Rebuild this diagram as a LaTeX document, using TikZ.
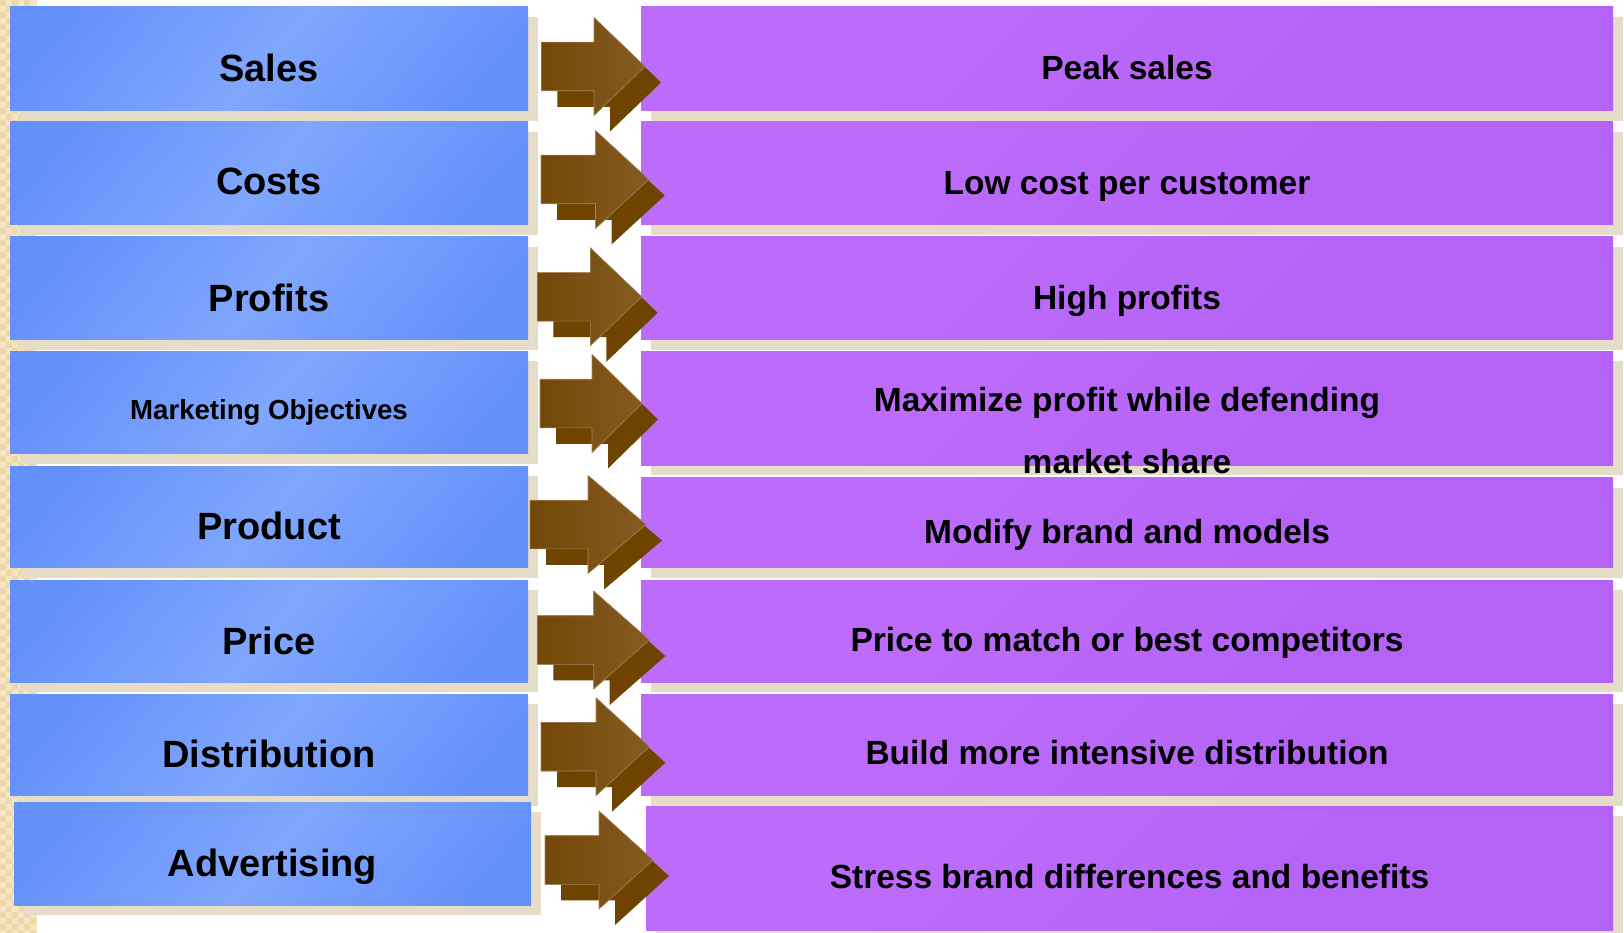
\documentclass[tikz,border=0pt]{standalone}
\usepackage{fontspec}
\setmainfont{Liberation Sans}
\usetikzlibrary{backgrounds}

\definecolor{blueA}{HTML}{6490FA}
\definecolor{blueB}{HTML}{80A7FC}
\definecolor{purpA}{HTML}{BD6BFA}
\definecolor{purpB}{HTML}{B563F7}
\definecolor{shadowc}{HTML}{E6DDC8}
\definecolor{chklight}{HTML}{F7E6C1}
\definecolor{chkdark}{HTML}{EDD8AC}
\definecolor{frontA}{HTML}{734707}
\definecolor{frontB}{HTML}{855B22}
\definecolor{backc}{HTML}{6F4300}
\definecolor{arrowedge}{HTML}{A8885A}

\pgfdeclarehorizontalshading{blueband}{100bp}{color(0bp)=(blueA); color(22bp)=(blueA); color(50bp)=(blueB); color(78bp)=(blueA); color(100bp)=(blueA)}
\pgfdeclarehorizontalshading{purpleband}{100bp}{color(0bp)=(purpA); color(35bp)=(purpA); color(65bp)=(purpB); color(100bp)=(purpB)}

\tikzset{
  panel/.style={rectangle, inner sep=0pt, outer sep=0pt, draw=none},
  leftbox/.style={panel, shading=blueband, shading angle=-40},
  rightbox/.style={panel, shading=purpleband, shading angle=-45},
  boxshadow/.style={fill=shadowc},
  lefttext/.style={font=\bfseries\fontsize{38}{40}\selectfont, inner sep=0pt, anchor=base},
  smalltext/.style={font=\bfseries\fontsize{27.6}{30}\selectfont, inner sep=0pt, anchor=base},
  righttext/.style={font=\bfseries\fontsize{33.5}{36}\selectfont, inner sep=0pt, anchor=base},
  arrowback/.style={fill=backc},
  arrowfront/.style={left color=frontA, right color=frontB, draw=arrowedge, line width=0.6pt, line join=miter},
}

% box node: name, style, left, top, right, bottom
\newcommand\drawpanel[6]{%
  \node[#2, anchor=north west, minimum width={#5-#3}, minimum height={#6-#4}] (#1) at (#3,#4) {};}

% 3D block arrow: body left, head base, tip, centre line
\newcommand\blockarrow[4]{%
  \fill[arrowback, shift={(16,16)}] (#1,#4-24.3) -- (#2,#4-24.3) -- (#2,#4-49) -- (#3,#4)
     -- (#2,#4+49) -- (#2,#4+24.3) -- (#1,#4+24.3) -- cycle;
  \filldraw[arrowfront] (#1,#4-24.3) -- (#2,#4-24.3) -- (#2,#4-49) -- (#3,#4)
     -- (#2,#4+49) -- (#2,#4+24.3) -- (#1,#4+24.3) -- cycle;}

\begin{document}
\begin{tikzpicture}[x=1pt, y=-1pt]
\useasboundingbox (0,0) rectangle (1624,933);

% left column
\drawpanel{L1}{leftbox}{10}{7}{528}{110.8}
\drawpanel{L2}{leftbox}{10}{122}{528}{224.8}
\drawpanel{L3}{leftbox}{10}{237}{528}{339.6}
\drawpanel{L4}{leftbox}{10}{351}{528}{453.5}
\drawpanel{L5}{leftbox}{10}{466}{528}{567.6}
\drawpanel{L6}{leftbox}{10}{580}{528}{682.3}
\drawpanel{L7}{leftbox}{10}{694}{528}{795.6}
\drawpanel{L8}{leftbox}{14}{802}{531}{905}

% right column
\drawpanel{R1}{rightbox}{641}{7}{1613}{110.8}
\drawpanel{R2}{rightbox}{641}{122}{1613}{224.8}
\drawpanel{R3}{rightbox}{641}{237}{1613}{339.6}
\drawpanel{R4}{rightbox}{641}{351}{1613}{465}
\drawpanel{R5}{rightbox}{641}{477.7}{1613}{567.6}
\drawpanel{R6}{rightbox}{641}{580}{1613}{682.3}
\drawpanel{R7}{rightbox}{641}{694}{1613}{795.6}
\drawpanel{R8}{rightbox}{646}{806}{1613}{930.8}

\begin{scope}[on background layer]
  % checkered strip along the left edge
  \fill[chklight] (0,0) rectangle (37,933);
  \foreach \j in {0,...,155}{
    \pgfmathsetmacro\off{mod(\j,2)*6}
    \foreach \i in {0,12,24}
      \fill[chkdark] (\i+\off,\j*6) rectangle ++(6,6);
  }
  % box shadows
  \foreach \b in {L1,L2,L3,L4,L5,L6,L7,L8,R1,R2,R3,R4,R5,R6,R7,R8}
    \fill[boxshadow] ([shift={(10,10)}]\b.north west) rectangle ([shift={(10,10)}]\b.south east);
\end{scope}

% arrows between the columns
\blockarrow{541.3}{594}{645}{66.5}
\blockarrow{541}{595.5}{648.7}{179.5}
\blockarrow{537.3}{590.3}{641.7}{296.8}
\blockarrow{540}{592}{642}{403.5}
\blockarrow{530}{588}{646}{524.5}
\blockarrow{537.3}{593.7}{649.3}{640}
\blockarrow{541}{596}{649.3}{746.7}
\blockarrow{545}{599}{653}{860}

% left labels
\node[lefttext] (t1) at (269,82) {Sales};
\node[lefttext] (t2) at (269,195) {Costs};
\node[lefttext] (t3) at (269,311) {Profits};
\node[smalltext] (t4) at (269,419) {Marketing Objectives};
\node[lefttext] (t5) at (269,539) {Product};
\node[lefttext] (t6) at (269,654) {Price};
\node[lefttext] (t7) at (269,767) {Distribution};
\node[lefttext] (t8) at (272.5,876) {Advertising};

% right labels
\node[righttext] (u1) at (1127,80) {Peak sales};
\node[righttext] (u2) at (1127,194.5) {Low cost per customer};
\node[righttext] (u3) at (1127,309) {High profits};
\node[righttext] (u4a) at (1127,411) {Maximize profit while defending};
\node[righttext] (u4b) at (1127,473) {market share};
\node[righttext] (u5) at (1127,543) {Modify brand and models};
\node[righttext] (u6) at (1127,651) {Price to match or best competitors};
\node[righttext] (u7) at (1127,764) {Build more intensive distribution};
\node[righttext] (u8) at (1129.5,888) {Stress brand differences and benefits};
\end{tikzpicture}
\end{document}
